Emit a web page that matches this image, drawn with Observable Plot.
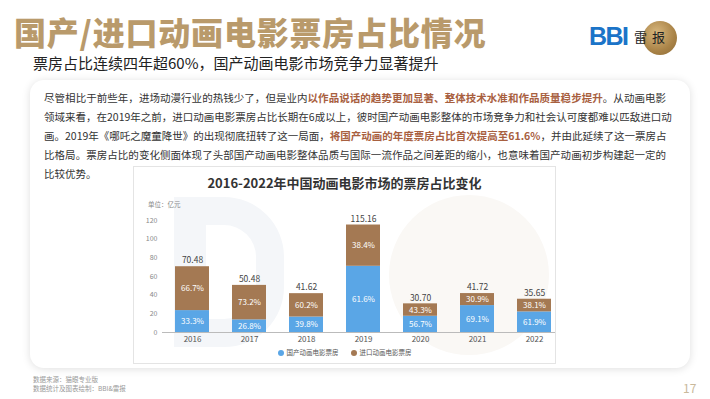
<!DOCTYPE html>
<html><head><meta charset="utf-8">
<script src="https://cdn.jsdelivr.net/npm/d3@7"></script>
<script src="https://cdn.jsdelivr.net/npm/@observablehq/plot@0.6"></script>
<style>
html,body{margin:0;padding:0}
body{width:710px;height:399px;overflow:hidden;background:#fff;position:relative;font-family:"Noto Sans CJK SC","Noto Sans",sans-serif}
.a{position:absolute;white-space:nowrap}
.title{left:14px;top:12px;font-size:32px;line-height:38px;font-weight:900;color:#b99a6b;letter-spacing:0.8px}
.sub{left:33px;top:53px;font-size:15px;line-height:20px;color:#222}
.card{left:30px;top:80px;width:660px;height:288px;border-radius:14px;background:#fff;box-shadow:0 1px 9px rgba(0,0,0,0.13)}
.pl{left:44px;width:622px;font-size:10.5px;line-height:14px;color:#333;text-align:justify;text-align-last:justify}
.pl.last{text-align-last:left}
.hl{color:#a8603f;font-weight:bold}
.box{left:133px;top:166px;width:421px;height:196px;border:1px solid #e4e4e4;background:#fff;overflow:hidden}
.ctitle{left:0;width:421px;top:7px;text-align:center;font-size:13px;line-height:18px;font-weight:bold;color:#333}
.unit{left:14px;top:32px;font-size:6.5px;line-height:10px;color:#888}
.legend{left:0;width:421px;top:180px;text-align:center;font-size:6.5px;line-height:10px;color:#555}
.dot{display:inline-block;width:6px;height:6px;border-radius:50%;vertical-align:-1px;margin-right:3px}
.foot{left:33px;font-size:6.5px;line-height:9px;color:#999}
</style></head><body>
<div class="a title">国产/进口动画电影票房占比情况</div>
<div class="a" style="left:589px;top:21px;font-family:'Liberation Sans',Arial,sans-serif;font-weight:900;font-size:25px;line-height:30px;color:#1b74c8;letter-spacing:-1.5px">BBI</div>
<div class="a" style="left:643px;top:21px;width:34px;height:34px;border-radius:50%;background:radial-gradient(circle at 40% 35%,#d8b77e,#a98347 60%,#8c6a35)"></div>
<div class="a" style="left:634px;top:28px;font-size:13px;line-height:18px;color:#222">雷<span style="margin-left:5px">报</span></div>
<div class="a sub">票房占比连续四年超60%，国产动画电影市场竞争力显著提升</div>
<div class="a card"></div>
<div class="a pl" style="top:91px">尽管相比于前些年，进场动漫行业的热钱少了，但是业内<span class="hl">以作品说话的趋势更加显著、整体技术水准和作品质量稳步提升</span>。从动画电影</div>
<div class="a pl" style="top:110px">领域来看，在2019年之前，进口动画电影票房占比长期在6成以上，彼时国产动画电影整体的市场竞争力和社会认可度都难以匹敌进口动</div>
<div class="a pl" style="top:129px">画。2019年《哪吒之魔童降世》的出现彻底扭转了这一局面，<span class="hl">将国产动画的年度票房占比首次提高至61.6%</span>，并由此延续了这一票房占</div>
<div class="a pl" style="top:148px">比格局。票房占比的变化侧面体现了头部国产动画电影整体品质与国际一流作品之间差距的缩小，也意味着国产动画初步构建起一定的</div>
<div class="a pl last" style="top:167px;width:60px">比较优势。</div>
<div class="a box" id="box">
  <div class="a" style="left:40px;top:30px;width:110px;height:150px;border-radius:0 60px 60px 0;border:28px solid #f4f6f9;border-left-width:32px;box-sizing:border-box"></div>
  <div class="a" style="left:255px;top:28px;width:160px;height:160px;border-radius:50%;background:#faf8f5"></div>
  <div class="a ctitle">2016-2022年中国动画电影市场的票房占比变化</div>
  <div class="a unit">单位：亿元</div>
  <div class="a legend"><span class="dot" style="background:#5aa6e6"></span>国产动画电影票房<span style="display:inline-block;width:12px"></span><span class="dot" style="background:#a47953"></span>进口动画电影票房</div>
</div>
<div id="chart" class="a" style="left:133px;top:196px"></div>
<div class="a foot" style="top:375px">数据来源：猫眼专业版</div>
<div class="a foot" style="top:384px">数据统计及图表绘制：BBI&amp;雷报</div>
<div class="a" style="left:683px;top:380px;font-size:12px;line-height:16px;color:#c9b99b">17</div>
<script>
const years = ["2016", "2017", "2018", "2019", "2020", "2021", "2022"];
const totals = [70.48, 50.48, 41.62, 115.16, 30.70, 41.72, 35.65];
const domesticShare = [33.3, 26.8, 39.8, 61.6, 56.7, 69.1, 61.9];
const importShare = [66.7, 73.2, 60.2, 38.4, 43.3, 30.9, 38.1];
const types = ["国产动画电影票房", "进口动画电影票房"];
const colors = ["#5aa6e6", "#a47953"];
const yTicks = [0, 20, 40, 60, 80, 100, 120];

const rows = [];
years.forEach((y, i) => {
  rows.push({year: y, type: types[0], value: totals[i] * domesticShare[i] / 100, pct: domesticShare[i].toFixed(1) + "%"});
  rows.push({year: y, type: types[1], value: totals[i] * importShare[i] / 100, pct: importShare[i].toFixed(1) + "%"});
});
const totalRows = years.map((y, i) => ({year: y, total: totals[i]}));

const chart = Plot.plot({
  width: 422,
  height: 150,
  marginTop: 24,
  marginBottom: 14,
  marginLeft: 29,
  marginRight: 0,
  style: {fontFamily: "Noto Sans CJK SC, sans-serif", background: "transparent"},
  x: {type: "band", domain: years, range: [40, 419], paddingInner: 0.41, paddingOuter: 0, axis: null},
  y: {domain: [0, 120], axis: null},
  color: {domain: types, range: colors},
  marks: [
    Plot.axisY({ticks: yTicks, tickSize: 0, tickPadding: 5, fontSize: 7, color: "#888", label: null}),
    Plot.axisX({tickSize: 0, tickPadding: 4, fontSize: 8, color: "#555", label: null}),
    Plot.barY(rows, Plot.stackY({x: "year", y: "value", fill: "type"})),
    Plot.text(rows, Plot.stackY({x: "year", y: "value", z: "type", text: "pct", fill: "white", fontSize: 8})),
    Plot.text(totalRows, {x: "year", y: "total", text: d => d.total.toFixed(2), dy: -6, fill: "#444", fontSize: 8.5}),
    Plot.ruleY([0], {stroke: "#bbb"})
  ]
});
document.getElementById("chart").appendChild(chart);
</script>
</body></html>
